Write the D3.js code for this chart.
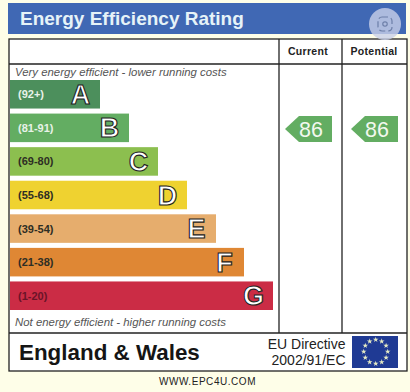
<!DOCTYPE html>
<html>
<head>
<meta charset="utf-8">
<script src="https://cdn.jsdelivr.net/npm/d3@7"></script>
<style>
html, body { margin: 0; padding: 0; background: #fefee8; }
svg { display: block; }
text { font-family: "Liberation Sans", Arial, sans-serif; }
</style>
</head>
<body>
<svg></svg>
<script>
var letters = ['A', 'B', 'C', 'D', 'E', 'F', 'G'];
var ranges = ['(92+)', '(81-91)', '(69-80)', '(55-68)', '(39-54)', '(21-38)', '(1-20)'];
var barLengths = [90, 119, 148, 177, 206, 234, 263];
var barColors = ['#4c8f5c', '#63ad62', '#8cbf4f', '#efd230', '#e6ad6d', '#df8734', '#cb2c45'];
var columns = ['Current', 'Potential'];
var ratings = [86, 86];
var ratingBand = 'B';

var svgWidth = 410;
var svgHeight = 392;

var svg = d3.select('svg')
    .attr('width', svgWidth)
    .attr('height', svgHeight);

// outer background and header
svg.append('rect')
    .attr('width', svgWidth).attr('height', svgHeight)
    .attr('fill', '#fefee8');

svg.append('rect')
    .attr('x', 8).attr('y', 3)
    .attr('width', 398).attr('height', 31)
    .attr('fill', '#4068b4');

svg.append('text')
    .attr('x', 20).attr('y', 25)
    .attr('font-size', 19)
    .attr('font-weight', 'bold')
    .attr('fill', '#e6f3f8')
    .text('Energy Efficiency Rating');

// main frame
svg.append('rect')
    .attr('x', 9).attr('y', 39)
    .attr('width', 398).attr('height', 332)
    .attr('fill', '#ffffff');

// scales
var yScale = d3.scaleBand()
    .domain(letters)
    .range([80, 310])
    .paddingInner(0.15)
    .paddingOuter(0);

var xScale = d3.scaleLinear()
    .domain([0, 263])
    .range([0, 263]);

// bars
var bars = svg.selectAll('.bar')
    .data(letters)
    .enter()
    .append('g')
    .attr('class', 'bar')
    .attr('transform', (d) => 'translate(10,' + yScale(d) + ')');

bars.append('rect')
    .attr('width', (d, i) => xScale(barLengths[i]))
    .attr('height', yScale.bandwidth())
    .attr('fill', (d, i) => barColors[i]);

bars.append('text')
    .attr('x', 8)
    .attr('y', yScale.bandwidth() / 2 + 4)
    .attr('font-size', 11)
    .attr('font-weight', 'bold')
    .attr('fill', (d, i) => i < 2 ? '#e8f2e8' : (i == 6 ? '#6a1428' : '#2e2e24'))
    .text((d, i) => ranges[i]);

bars.append('text')
    .attr('x', (d, i) => xScale(barLengths[i]) - 19.5)
    .attr('y', yScale.bandwidth() / 2 + 9.5)
    .attr('text-anchor', 'middle')
    .attr('font-size', 27)
    .attr('font-weight', 'bold')
    .attr('fill', '#fff')
    .attr('stroke', '#222')
    .attr('stroke-width', 1.1)
    .text((d) => d);

// notes
svg.append('text')
    .attr('x', 15).attr('y', 76)
    .attr('font-size', 11.4).attr('font-style', 'italic')
    .attr('fill', '#555')
    .text('Very energy efficient - lower running costs');

svg.append('text')
    .attr('x', 15).attr('y', 326)
    .attr('font-size', 11.4).attr('font-style', 'italic')
    .attr('fill', '#555')
    .text('Not energy efficient - higher running costs');

// grid lines of the frame
var colX = [279, 342];
var line = (x1, y1, x2, y2, w) => svg.append('line')
    .attr('x1', x1).attr('y1', y1).attr('x2', x2).attr('y2', y2)
    .attr('stroke', '#222').attr('stroke-width', w);

line(9, 64, 407, 64, 1.3);
line(9, 333, 407, 333, 1.3);
colX.forEach((x) => line(x, 39, x, 333, 1.3));

svg.append('rect')
    .attr('x', 9).attr('y', 39)
    .attr('width', 398).attr('height', 332)
    .attr('fill', 'none')
    .attr('stroke', '#222')
    .attr('stroke-width', 1.3);

// column headings and arrows
var colCentre = [308, 374];
svg.selectAll('.col')
    .data(columns)
    .enter()
    .append('text')
    .attr('class', 'col')
    .attr('x', (d, i) => colCentre[i])
    .attr('y', 55)
    .attr('text-anchor', 'middle')
    .attr('font-size', 10.5)
    .attr('font-weight', 'bold')
    .attr('letter-spacing', 0.3)
    .attr('fill', '#222')
    .text((d) => d);

var arrowLeft = [285, 351];
var arrowY = yScale(ratingBand) + yScale.bandwidth() / 2 + 1.2;
var arrows = svg.selectAll('.arrow')
    .data(ratings)
    .enter()
    .append('g')
    .attr('class', 'arrow')
    .attr('transform', (d, i) => 'translate(' + arrowLeft[i] + ',' + arrowY + ')');

arrows.append('path')
    .attr('d', 'M0,0L14,-13H47V13H14Z')
    .attr('fill', '#63ad62');

arrows.append('text')
    .attr('x', 26)
    .attr('y', 7.5)
    .attr('text-anchor', 'middle')
    .attr('font-size', 21.5)
    .attr('fill', '#f2f8ee')
    .text((d) => d);

// footer
svg.append('text')
    .attr('x', 19).attr('y', 360)
    .attr('font-size', 22.4)
    .attr('font-weight', 'bold')
    .attr('fill', '#151515')
    .text('England & Wales');

svg.append('text')
    .attr('x', 345.5).attr('y', 349)
    .attr('text-anchor', 'end')
    .attr('font-size', 14)
    .attr('fill', '#222')
    .text('EU Directive');

svg.append('text')
    .attr('x', 345.5).attr('y', 365)
    .attr('text-anchor', 'end')
    .attr('font-size', 14)
    .attr('fill', '#222')
    .text('2002/91/EC');

// EU flag
svg.append('rect')
    .attr('x', 352).attr('y', 336)
    .attr('width', 46).attr('height', 32)
    .attr('fill', '#1f3a94');

var stars = d3.range(12);
svg.selectAll('.star')
    .data(stars)
    .enter()
    .append('path')
    .attr('class', 'star')
    .attr('d', d3.symbol().type(d3.symbolStar).size(10))
    .attr('fill', '#e6ebc4')
    .attr('transform', (d) => {
        var a = d / 12 * 2 * Math.PI;
        return 'translate(' + (375.7 + 12 * Math.sin(a)) + ',' + (351.7 - 12 * Math.cos(a)) + ')';
    });

// site caption
svg.append('text')
    .attr('x', 207.5).attr('y', 385)
    .attr('text-anchor', 'middle')
    .attr('font-size', 10)
    .attr('letter-spacing', 0.55)
    .attr('fill', '#222')
    .text('WWW.EPC4U.COM');

// lens button over the header
var lens = svg.append('g').attr('transform', 'translate(385,24)');
lens.append('circle')
    .attr('r', 16)
    .attr('fill', '#c8d0e8')
    .attr('fill-opacity', 0.8);
lens.append('rect')
    .attr('x', -7).attr('y', -7)
    .attr('width', 14).attr('height', 14)
    .attr('rx', 4)
    .attr('fill', 'none')
    .attr('stroke', '#6d7fa8')
    .attr('stroke-width', 1.2)
    .attr('stroke-dasharray', '6 3 6 3');
lens.append('circle')
    .attr('r', 2.2)
    .attr('fill', 'none')
    .attr('stroke', '#6d7fa8')
    .attr('stroke-width', 1.2);
</script>
</body>
</html>
